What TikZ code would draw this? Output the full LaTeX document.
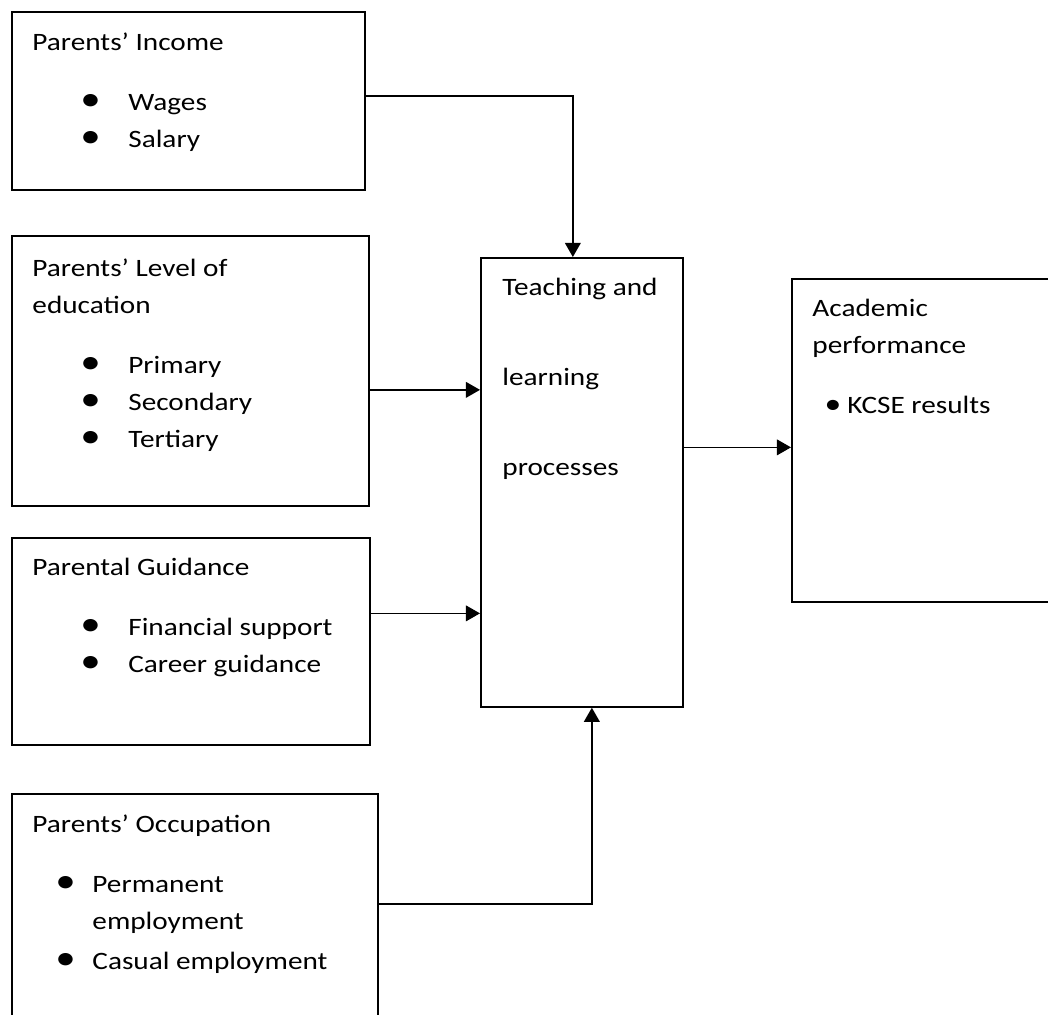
\documentclass[tikz,border=0pt]{standalone}
\usepackage{fontspec}
\setmainfont{Carlito}[FakeStretch=1.17]
\usepackage{graphicx}
\usetikzlibrary{arrows.meta,positioning,calc}

% bullet item: [scale]{indent}{bullet width}{text}
\newcommand{\itm}[4][1.4]{\hspace*{#2}\makebox[#3][l]{\scalebox{#1}{\textbullet}}#4}
% lines of a box, baseline at the first line
\newcommand{\lines}[1]{\begin{tabular}[t]{@{}l@{}}#1\end{tabular}}

\tikzset{
  box/.style 2 args={draw,line width=0.75pt,inner sep=0pt,anchor=north west,
    minimum width=#1*0.44pt,minimum height=#2*0.44pt},
  txt/.style={anchor=base west,inner sep=0pt,
    font=\fontsize{11pt}{16.3pt}\selectfont},
  arr/.style={line width=0.7pt,-{Triangle[length=6.2pt,width=6.9pt]}},
}

\begin{document}
\begin{tikzpicture}[x=0.44pt,y=-0.44pt]
  \useasboundingbox (0,0) rectangle (1048,1014);
  \clip (0,0) rectangle (1048,1014);

  % boxes
  \node[box={353}{178}] (inc) at (11,11) {};
  \node[box={357}{270}] (edu) at (11,235) {};
  \node[box={358}{207}] (gui) at (11,537) {};
  \node[box={366}{240}] (occ) at (11,793) {};
  \node[box={202}{449}] (tlp) at (480,257) {};
  \node[box={280}{323}] (acp) at (791,278) {};

  % texts
  \node[txt] (incT) at ($(inc.north west)+(21,39)$) {\lines{Parents’ Income\\[10.1pt]
    \itm{21.1pt}{21.1pt}{Wages}\\
    \itm{21.1pt}{21.1pt}{Salary}}};
  \node[txt] (eduT) at ($(edu.north west)+(21,41)$) {\lines{Parents’ Level of\\
    education\\[10.1pt]
    \itm{21.1pt}{21.1pt}{Primary}\\
    \itm{21.1pt}{21.1pt}{Secondary}\\
    \itm{21.1pt}{21.1pt}{Tertiary}}};
  \node[txt] (guiT) at ($(gui.north west)+(21,38)$) {\lines{Parental Guidance\\[10.1pt]
    \itm{21.1pt}{21.1pt}{Financial support}\\
    \itm{21.1pt}{21.1pt}{Career guidance}}};
  \node[txt] (occT) at ($(occ.north west)+(21,39)$) {\lines{Parents’ Occupation\\[10.1pt]
    \itm{10.1pt}{16.3pt}{Permanent}\\
    \hspace*{26.4pt}employment\\[1.3pt]
    \itm{10.1pt}{16.3pt}{Casual employment}}};
  \node[txt] (tlpT) at ($(tlp.north west)+(22,38)$) {\lines{Teaching and\\[23.3pt]
    learning\\[23.3pt]
    processes}};
  \node[txt] (acpT) at ($(acp.north west)+(21,38)$) {\lines{Academic\\
    performance\\[10.1pt]
    \itm[1.15]{5.3pt}{10.1pt}{KCSE results}}};

  % arrows
  \draw[arr] ($(inc.east)+(0,-5)$) -| ($(tlp.north)+(-9,0)$);
  \draw[arr] ($(edu.east)+(0,19)$) coordinate (e2) -- (e2 -| tlp.west);
  \draw[arr] ($(gui.east)+(0,-28)$) coordinate (e3) -- (e3 -| tlp.west);
  \draw[arr] ($(occ.north east)+(0,111)$) -| ($(tlp.south)+(10,0)$);
  \draw[arr] ($(tlp.east)+(0,-35)$) coordinate (e5) -- (e5 -| acp.west);
\end{tikzpicture}
\end{document}
